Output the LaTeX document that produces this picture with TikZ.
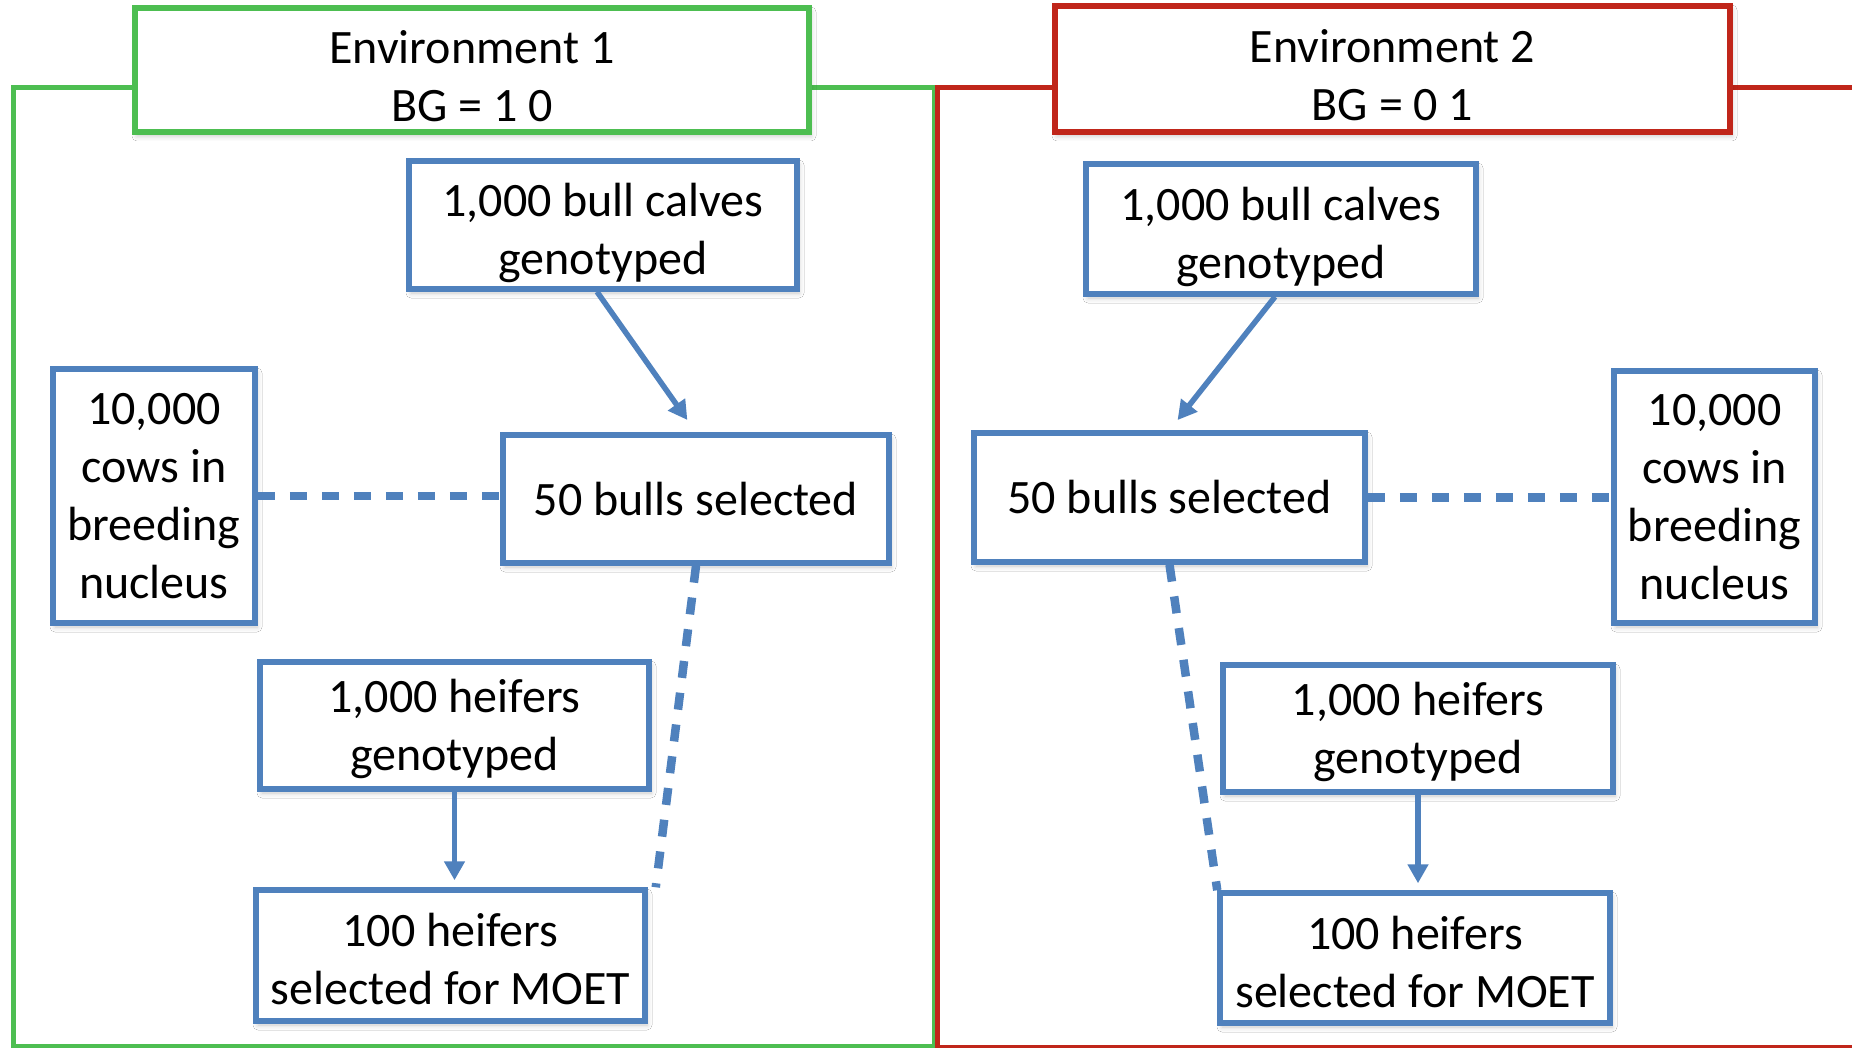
\documentclass[tikz,border=0pt]{standalone}
\usepackage{fontspec}
\setmainfont{Carlito}
\usetikzlibrary{arrows.meta,shadows.blur,calc}

\definecolor{boxblue}{HTML}{4F81BD}
\definecolor{envgreen}{HTML}{4DBE51}
\definecolor{envred}{HTML}{C0261A}

% taller first line, so two-line labels sit a little below the box centre
\newcommand\firstline[1][49pt]{\rule{0pt}{#1}}

\tikzset{
  txt/.style={font=\fontsize{48}{58}\selectfont, align=center, text=black},
  softshadow/.style={blur shadow={shadow xshift=2pt, shadow yshift=-4pt,
      shadow blur radius=5pt, shadow opacity=22}},
  bluebox/.style={txt, draw=boxblue, line width=5.5pt, fill=white,
      inner sep=0pt, softshadow},
  envbox/.style={txt, line width=5.5pt, fill=white, inner sep=0pt,
      softshadow},
  flow/.style={draw=boxblue, line width=5.5pt,
      -{Triangle[length=19pt,width=20pt]}},
  link/.style={draw=boxblue, line width=8.5pt, dash pattern=on 17pt off 15pt},
  frame/.style={line width=5pt},
}

\begin{document}
\begin{tikzpicture}[x=1pt, y=-1pt]
  \clip (0,0) rectangle (1852,1048);
  \useasboundingbox (0,0) rectangle (1852,1048);
  \fill[white] (0,0) rectangle (1852,1048);

  % environment frames
  \draw[frame, envgreen] (13,88) rectangle (934,1046);
  \draw[frame, envred] (937,88) rectangle (1870,1047);

  % environment titles
  \node[envbox, draw=envgreen, minimum width=674pt, minimum height=124pt]
    (titleL) at (472,70) {\firstline[45pt]Environment 1\\BG = 1 0};
  \node[envbox, draw=envred, minimum width=675pt, minimum height=126pt]
    (titleR) at (1392.5,69) {\firstline[45pt]Environment 2\\BG = 0 1};

  % environment 1
  \node[bluebox, minimum width=388pt, minimum height=128pt]
    (calvesL) at (603,225) {\firstline 1,000 bull calves\\genotyped};
  \node[bluebox, minimum width=386pt, minimum height=128pt]
    (bullsL) at (696,499) {50 bulls selected};
  \node[bluebox, minimum width=202pt, minimum height=254pt]
    (cowsL) at (154,496) {10,000\\cows in\\breeding\\nucleus};
  \node[bluebox, minimum width=389pt, minimum height=127pt]
    (heifGL) at (454.5,725.5) {\firstline[41pt]1,000 heifers\\genotyped};
  \node[bluebox, minimum width=389pt, minimum height=131pt]
    (moetL) at (450.5,955.5) {\firstline[41pt]100 heifers\\selected for MOET};

  % environment 2
  \node[bluebox, minimum width=390pt, minimum height=130pt]
    (calvesR) at (1281,229) {\firstline 1,000 bull calves\\genotyped};
  \node[bluebox, minimum width=391pt, minimum height=129pt]
    (bullsR) at (1169.5,497.5) {50 bulls selected};
  \node[bluebox, minimum width=201pt, minimum height=252pt]
    (cowsR) at (1714.5,497) {10,000\\cows in\\breeding\\nucleus};
  \node[bluebox, minimum width=390pt, minimum height=127pt]
    (heifGR) at (1418,728.5) {\firstline[41pt]1,000 heifers\\genotyped};
  \node[bluebox, minimum width=390pt, minimum height=130pt]
    (moetR) at (1415,958) {\firstline[41pt]100 heifers\\selected for MOET};

  % selection arrows
  \draw[flow, shorten >=15pt] ($(calvesL.south)+(-6,0)$) -- (bullsL.north);
  \draw[flow, shorten >=7pt] (heifGL.south) -- (heifGL.south |- moetL.north);
  \draw[flow, shorten >=13pt] ($(calvesR.south)+(-6,0)$) -- (bullsR.north);
  \draw[flow, shorten >=7pt] (heifGR.south) -- (heifGR.south |- moetR.north);

  % mating links
  \draw[link] (cowsL.east) -- (cowsL.east -| bullsL.west);
  \draw[link] (bullsL.south) -- ($(moetL.north east)+(8,0)$);
  \draw[link] (bullsR.east) -- (bullsR.east -| cowsR.west);
  \draw[link] (bullsR.south) -- (moetR.north west);
\end{tikzpicture}
\end{document}
